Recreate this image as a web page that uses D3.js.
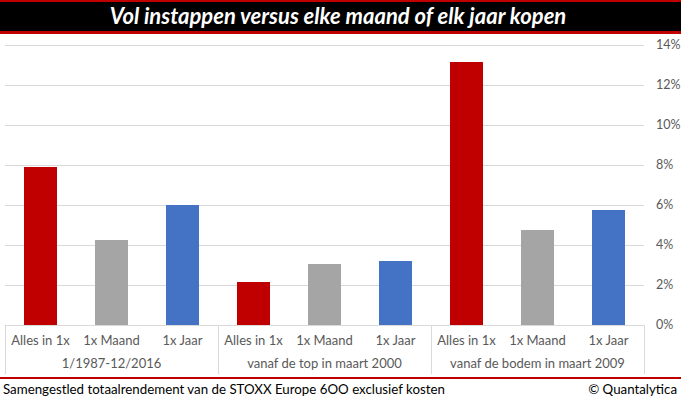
<!DOCTYPE html>
<html lang="nl">
<head>
<meta charset="UTF-8">
<title>Vol instappen versus elke maand of elk jaar kopen</title>
<style>
    body { margin: 0; padding: 0; background: #fff; }
    svg { display: block; }
    .cat { font-family: Lato, "Liberation Sans", sans-serif; font-size: 13px; fill: #595959; text-anchor: middle; }
    .tick-label { font-family: Lato, "Liberation Sans", sans-serif; font-size: 12.5px; fill: #595959; }
    .footer { font-family: Lato, "Liberation Sans", sans-serif; font-size: 13.3px; fill: #000; }
</style>
</head>
<body>
<div id="chart"></div>
<script src="https://d3js.org/d3.v7.min.js"></script>
<script>
    // periods and strategies
    const groups = ["1/1987-12/2016", "vanaf de top in maart 2000", "vanaf de bodem in maart 2009"];
    const strategies = ["Alles in 1x", "1x Maand", "1x Jaar"];
    // annual return (%) per period
    const allesIn1x = [7.9, 2.15, 13.15];
    const perMaand = [4.25, 3.05, 4.75];
    const perJaar = [6.0, 3.2, 5.75];
    const yTicks = [0, 2, 4, 6, 8, 10, 12, 14];
    const colors = ["#c00000", "#a5a5a5", "#4472c4"];

    const W = 681, H = 399;
    const plotLeft = 5, plotRight = 644, plotTop = 45, plotBottom = 325;

    const series = [allesIn1x, perMaand, perJaar];
    const data = [];
    groups.forEach((g, gi) => {
        strategies.forEach((s, si) => {
            data.push({ key: gi + "-" + si, group: g, strategy: s, si: si, value: series[si][gi] });
        });
    });

    const svg = d3.select("#chart").append("svg")
        .attr("width", W)
        .attr("height", H);

    // title banner
    svg.append("rect").attr("x", 0).attr("y", 0).attr("width", W).attr("height", 34).attr("fill", "#c00000");
    svg.append("rect").attr("x", 0).attr("y", 2).attr("width", W).attr("height", 29).attr("fill", "#000");
    svg.append("text")
        .attr("x", 338)
        .attr("y", 24)
        .attr("text-anchor", "middle")
        .style("font-family", "Lato, 'Open Sans', sans-serif")
        .style("font-weight", "bold")
        .style("font-style", "italic")
        .style("font-size", "22px")
        .attr("fill", "#fff")
        .text("Vol instappen versus elke maand of elk jaar kopen");

    const x = d3.scaleBand()
        .domain(data.map(d => d.key))
        .range([plotLeft, plotRight])
        .paddingInner(0.535)
        .paddingOuter(0.535 / 2);

    const y = d3.scaleLinear()
        .domain([0, 14])
        .range([plotBottom, plotTop]);

    // gridlines
    svg.append("g")
        .selectAll("line")
        .data(yTicks)
        .join("line")
        .attr("x1", plotLeft)
        .attr("x2", plotRight)
        .attr("y1", d => Math.round(y(d)) + 0.5)
        .attr("y2", d => Math.round(y(d)) + 0.5)
        .attr("stroke", "#d9d9d9")
        .attr("stroke-width", 1);

    // right axis labels
    svg.append("g")
        .selectAll("text")
        .data(yTicks)
        .join("text")
        .attr("class", "tick-label")
        .attr("x", 656)
        .attr("y", d => y(d) + 4)
        .text(d => d + "%");

    // bars
    svg.append("g")
        .selectAll("rect")
        .data(data)
        .join("rect")
        .attr("x", d => x(d.key))
        .attr("width", x.bandwidth())
        .attr("y", d => y(d.value))
        .attr("height", d => y(0) - y(d.value))
        .attr("fill", d => colors[d.si]);

    // category axis separators
    const step = x.step();
    const sepX = [0, 1, 2, 3].map(i => plotLeft + i * 3 * step);
    svg.append("g")
        .selectAll("line")
        .data(sepX)
        .join("line")
        .attr("x1", d => Math.round(d) + 0.5)
        .attr("x2", d => Math.round(d) + 0.5)
        .attr("y1", plotBottom)
        .attr("y2", 374)
        .attr("stroke", "#d9d9d9");

    svg.append("g")
        .selectAll("text")
        .data(data)
        .join("text")
        .attr("class", "cat")
        .attr("x", d => x(d.key) + x.bandwidth() / 2)
        .attr("y", 345)
        .text(d => d.strategy);

    svg.append("g")
        .selectAll("text")
        .data(groups)
        .join("text")
        .attr("class", "cat")
        .attr("x", (d, i) => (sepX[i] + sepX[i + 1]) / 2)
        .attr("y", 368)
        .text(d => d);

    // footer
    svg.append("rect").attr("x", 0).attr("y", 377).attr("width", W).attr("height", 2).attr("fill", "#c00000");
    svg.append("text")
        .attr("class", "footer")
        .attr("x", 3)
        .attr("y", 394)
        .text("Samengestled totaalrendement van de STOXX Europe 6OO exclusief kosten");
    svg.append("text")
        .attr("class", "footer")
        .attr("x", 677)
        .attr("y", 394)
        .attr("text-anchor", "end")
        .text("© Quantalytica");
</script>
</body>
</html>
